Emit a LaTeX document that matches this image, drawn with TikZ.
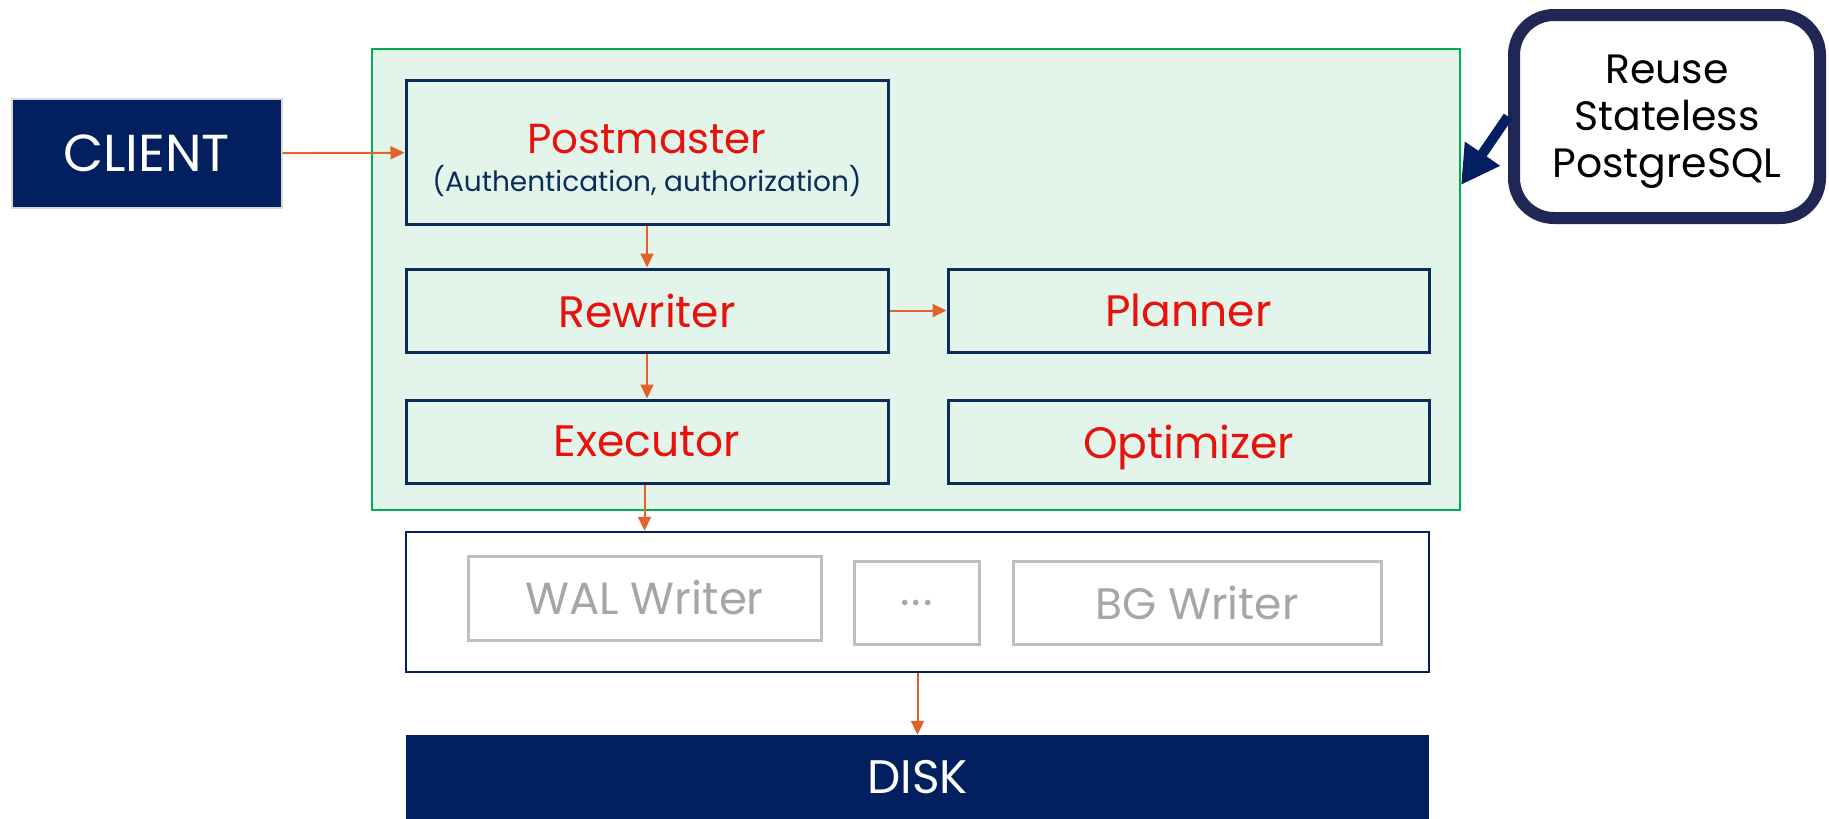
\documentclass[tikz,border=0pt]{standalone}
\usepackage{fontspec}
\setmainfont{Poppins}
\usetikzlibrary{arrows.meta}
\definecolor{navy}{HTML}{02205F}
\definecolor{boxline}{HTML}{0B2D5B}
\definecolor{pgred}{HTML}{E8110B}
\definecolor{grn}{HTML}{00B050}
\definecolor{grnfill}{HTML}{E3F5EA}
\definecolor{arrorange}{HTML}{E2622A}
\definecolor{greyline}{HTML}{BFBFBF}
\definecolor{greytext}{HTML}{A6A6A6}
\definecolor{callline}{HTML}{1F2854}

\begin{document}
\begin{tikzpicture}[x=1pt,y=-1pt,
    stage/.style={draw=boxline, line width=3pt, text=pgred, inner sep=0pt,
        font=\fontsize{44}{50}\selectfont},
    proc/.style={draw=greyline, line width=3pt, text=greytext, inner sep=0pt,
        font=\fontsize{45}{50}\selectfont},
    darkbox/.style={fill=navy, text=white, inner sep=0pt},
    flow/.style={draw=arrorange, line width=2pt, -{Triangle[length=14pt,width=13pt]}}]

    \useasboundingbox (0,0) rectangle (1829,819);

    % query processing part
    \node[draw=grn, fill=grnfill, line width=2.5pt, minimum width=1088, minimum height=461] (pg) at (916,279.5) {};

    \node[darkbox, draw=black!15, line width=2pt, minimum width=270, minimum height=109,
        font=\fontsize{52}{50}\selectfont] (client) at (146.5,153.5) {CLIENT};

    \node[stage, minimum width=482, minimum height=144, align=center, text depth=2pt,
        font=\fontsize{42}{50}\selectfont] (post) at (647,152)
        {\rule{0pt}{42pt}Postmaster\\[-12pt]{\color{boxline}\fontsize{28}{32}\selectfont(Authentication, authorization)}};
    \node[stage, minimum width=482, minimum height=83] (rew) at (647,310.5) {Rewriter};
    \node[stage, minimum width=481, minimum height=83] (plan) at (1188.5,310.5) {Planner};
    \node[stage, minimum width=482, minimum height=83] (exec) at (647,441.5) {Executor};
    \node[stage, minimum width=481, minimum height=83, text depth=0pt] (opt) at (1188.5,441.5) {Optimizer};

    % background writers
    \node[draw=navy, fill=white, line width=2.5pt, minimum width=1023, minimum height=140] (procs) at (917.5,602) {};
    \node[proc, minimum width=353, minimum height=84] (wal) at (644.5,598) {WAL Writer};
    \node[proc, minimum width=125, minimum height=83, text depth=0pt] (more) at (916.5,602.5) {.\kern2pt.\kern2pt.};
    \node[proc, minimum width=368, minimum height=83, font=\fontsize{44}{50}\selectfont] (bgw) at (1197,602.5) {BG Writer};

    \node[darkbox, minimum width=1023, minimum height=84, font=\fontsize{47}{50}\selectfont] (disk) at (917.5,777) {DISK};

    % callout
    \node[draw=callline, fill=white, line width=12pt, rounded corners=40pt, minimum width=306, minimum height=203,
        align=center, text depth=0pt, font=\fontsize{41}{47}\selectfont] (call) at (1667,116.5) {Reuse\\Stateless\\PostgreSQL};
    \coordinate (tip) at (1461,185);
    \draw[draw=navy, line width=10pt, -{Triangle[length=38pt,width=40pt]}] (call.west) -- (tip);

    \draw[flow] (client) -- (post);
    \draw[flow] (post) -- (rew);
    \draw[flow] (rew) -- (plan);
    \draw[flow] (rew) -- (exec);
    \draw[flow] (exec.south -| wal) -- (procs.north -| wal);
    \draw[flow] (procs) -- (disk);
\end{tikzpicture}
\end{document}
